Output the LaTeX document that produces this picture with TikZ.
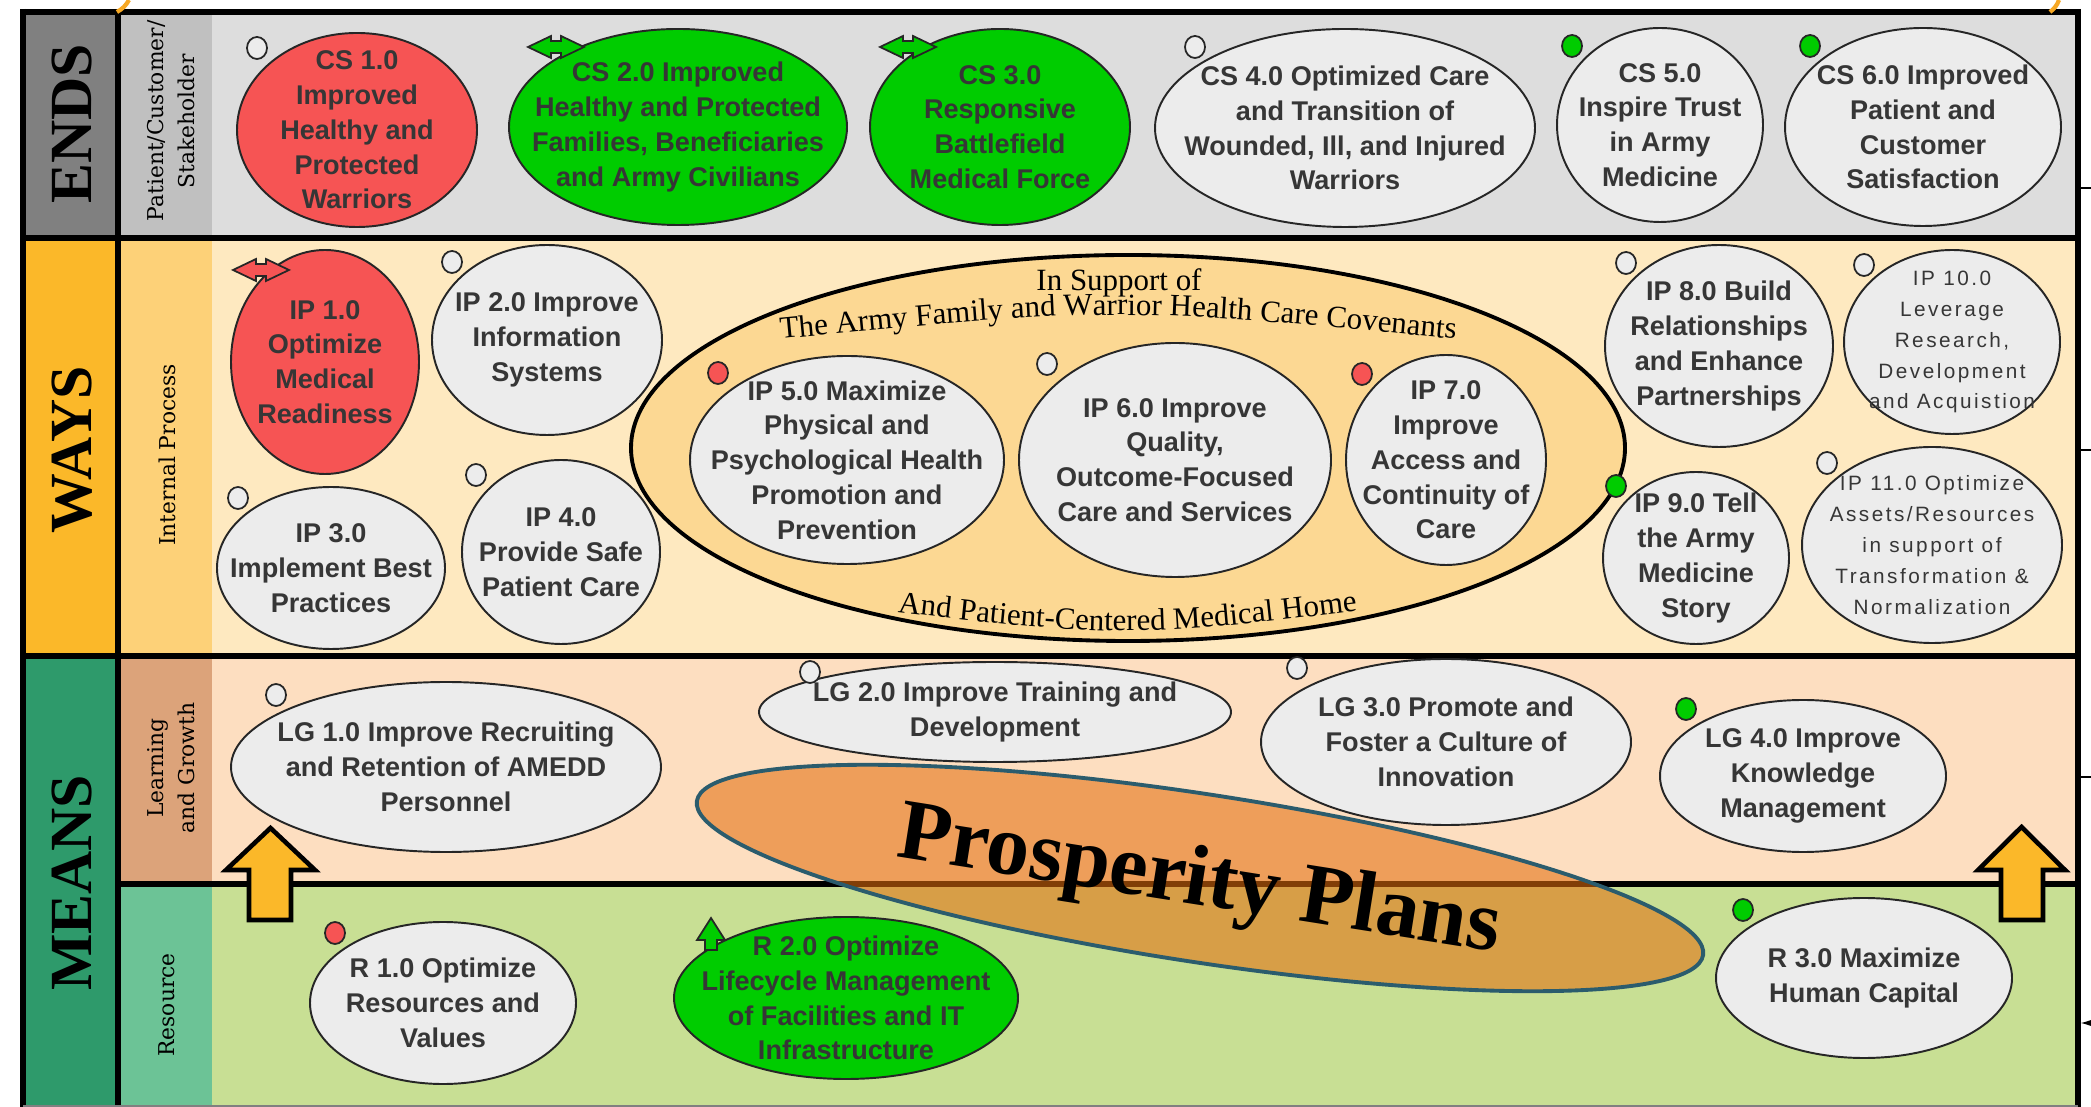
\documentclass[tikz,border=0pt]{standalone}
\usepackage{fontspec}
\setmainfont{Liberation Serif}
\setsansfont{Liberation Sans}
\newfontfamily\slabfont{DejaVu Serif}
\newfontfamily\spacedfont{Liberation Sans}[LetterSpace=12]
\usetikzlibrary{shapes.geometric,decorations.text}

\definecolor{endsDark}{HTML}{808080}
\definecolor{endsMid}{HTML}{C0C0C0}
\definecolor{endsLight}{HTML}{DDDDDD}
\definecolor{waysDark}{HTML}{FBB829}
\definecolor{waysMid}{HTML}{FDD178}
\definecolor{waysLight}{HTML}{FEE9C0}
\definecolor{meansDark}{HTML}{2E9A6B}
\definecolor{lgMid}{HTML}{DCA37A}
\definecolor{lgLight}{HTML}{FDDEC0}
\definecolor{resMid}{HTML}{6CC396}
\definecolor{resLight}{HTML}{C8DF94}
\definecolor{objGray}{HTML}{ECECEC}
\definecolor{objRed}{HTML}{F65454}
\definecolor{objGreen}{HTML}{00CC00}
\definecolor{txtGray}{HTML}{363636}
\definecolor{covFill}{HTML}{FCD893}
\definecolor{arrowYellow}{HTML}{FBB829}
\definecolor{prospFill}{HTML}{E46E0E}
\definecolor{prospLine}{HTML}{2B5C6D}
\definecolor{orangeArc}{HTML}{F7A823}

\newcommand\covfont{\rmfamily\fontsize{8.8}{10}\selectfont}

\tikzset{
  frameline/.style={line width=1.7pt},
  obj/.style={draw=black!85, line width=0.55pt, fill=objGray},
  objtxt/.style={align=center, inner sep=0pt, text=txtGray, font=\sffamily\bfseries\fontsize{7.7}{9.9}\selectfont},
  thintxt/.style={objtxt, font=\spacedfont\fontsize{5.9}{8.8}\selectfont},
  dot/.style={ellipse, draw=black!85, line width=0.5pt, fill=objGray, minimum width=0.2cm, minimum height=0.22cm, inner sep=0pt},
  flag/.style={draw=black!85, line width=0.5pt, line join=miter},
  bigword/.style={rotate=90, font=\bfseries\fontsize{17}{20}\selectfont},
  sublabel/.style={rotate=90, align=center, font=\slabfont\fontsize{6.2}{8.8}\selectfont},
  blockarrow/.style={fill=arrowYellow, draw=black, line width=1.3pt, line join=miter},
  prosp/.style={fill=prospFill, fill opacity=0.57, draw=prospLine, line width=1.1pt}
}

\begin{document}
\begin{tikzpicture}[x=0.01cm, y=-0.01cm, >=latex]
\fill[white] (0,0) rectangle (2091,1107);
\useasboundingbox (0,0) rectangle (2091,1107);
% rows
\foreach \ya/\yb/\cmid/\clight in {12/238/endsMid/endsLight, 238/656/waysMid/waysLight, 656/884/lgMid/lgLight, 884/1107/resMid/resLight}
{
   \fill[\cmid] (118,\ya) rectangle (212,\yb);
   \fill[\clight] (212,\ya) rectangle (2078,\yb);
}
\fill[endsDark] (23,12) rectangle (118,238);
\fill[waysDark] (23,238) rectangle (118,656);
\fill[meansDark] (23,656) rectangle (118,1107);
% frame
\draw[frameline] (20,12) -- (2081,12);
\draw[frameline] (23,9) -- (23,1107);
\draw[frameline] (2078,9) -- (2078,1107);
\draw[frameline] (118,12) -- (118,1107);
\draw[frameline] (23,238) -- (2078,238);
\draw[frameline] (23,656) -- (2078,656);
\draw[frameline] (118,884) -- (2078,884);
\draw[gray, line width=0.5pt] (23,1106) -- (2078,1106);
\foreach \y in {188,450,777}
   \draw[line width=0.8pt] (2078,\y) -- (2091,\y);
\draw[<-, line width=0.8pt] (2081,1023) -- (2091,1023);
\draw[orangeArc, line width=1.2pt] (117,12) to[bend right=15] (129,0);
\draw[orangeArc, line width=1.2pt] (2050,12) to[bend right=15] (2059,0);
% side labels
\node[bigword] (ends) at (72,124) {ENDS};
\node[bigword] (ways) at (72,450) {WAYS};
\node[bigword] (means) at (72,883) {MEANS};
\node[sublabel] (pcs) at (171,121) {Patient/Customer/\\Stakeholder};
\node[sublabel] (ipl) at (167,455) {Internal Process};
\node[sublabel] (lgl) at (171,768) {Learning\\and Growth};
\node[sublabel] (rsl) at (167,1005) {Resource};
% covenants
\path[draw=black, line width=1.1pt, fill=covFill] (1128,448) ellipse [x radius=497, y radius=193];
\node[font=\covfont] (sup) at (1119,283) {In Support of};
\path[decorate, decoration={text along path, text align=center,
   text={|\covfont|The Army Family and Warrior Health Care Covenants}}]
   (750,342) .. controls (1118,306) .. (1486,342);
\path[decorate, decoration={text along path, text align=center,
   text={|\covfont|And Patient-Centered Medical Home}}]
   (850,607) .. controls (1128,639) .. (1405,605);
% prosperity plans
\path[prosp, rotate around={-8.7:(1200,878)}] (1200,878) ellipse [x radius=509, y radius=84];
% ends
\path[obj, fill=objRed] (357,130) ellipse [x radius=120, y radius=97]
   node[objtxt] (cs1) {CS 1.0\\Improved\\Healthy and\\Protected\\Warriors};
\path[obj, fill=objGreen] (678,127) ellipse [x radius=169, y radius=98]
   node[objtxt] (cs2) {CS 2.0 Improved\\Healthy and Protected\\Families, Beneficiaries\\and Army Civilians};
\path[obj, fill=objGreen] (1000,127) ellipse [x radius=130, y radius=98]
   node[objtxt] (cs3) {CS 3.0\\Responsive\\Battlefield\\Medical Force};
\path[obj] (1345,128) ellipse [x radius=190, y radius=99]
   node[objtxt] (cs4) {CS 4.0 Optimized Care\\and Transition of\\Wounded, Ill, and Injured\\Warriors};
\path[obj] (1660,125) ellipse [x radius=103, y radius=97]
   node[objtxt] (cs5) {CS 5.0\\Inspire Trust\\in Army\\Medicine};
\path[obj] (1923,127) ellipse [x radius=138, y radius=99]
   node[objtxt] (cs6) {CS 6.0 Improved\\Patient and\\Customer\\Satisfaction};
% ways
\path[obj, fill=objRed] (325,362) ellipse [x radius=94, y radius=112]
   node[objtxt] (ip1) {IP 1.0\\Optimize\\Medical\\Readiness};
\path[obj] (547,340) ellipse [x radius=115, y radius=95]
   node[objtxt] (ip2) {IP 2.0 Improve\\Information\\Systems};
\path[obj] (331,568) ellipse [x radius=114, y radius=81]
   node[objtxt] (ip3) {IP 3.0\\Implement Best\\Practices};
\path[obj] (561,552) ellipse [x radius=99, y radius=92]
   node[objtxt] (ip4) {IP 4.0\\Provide Safe\\Patient Care};
\path[obj] (847,460) ellipse [x radius=157, y radius=104]
   node[objtxt] (ip5) {IP 5.0 Maximize\\Physical and\\Psychological Health\\Promotion and\\Prevention};
\path[obj] (1175,460) ellipse [x radius=156, y radius=117]
   node[objtxt] (ip6) {IP 6.0 Improve\\Quality,\\Outcome-Focused\\Care and Services};
\path[obj] (1446,460) ellipse [x radius=100, y radius=105]
   node[objtxt] (ip7) {IP 7.0\\Improve\\Access and\\Continuity of\\Care};
\path[obj] (1719,346) ellipse [x radius=114, y radius=101]
   node[objtxt] (ip8) {IP 8.0 Build\\Relationships\\and Enhance\\Partnerships};
\path[obj] (1696,558) ellipse [x radius=93, y radius=86]
   node[objtxt] (ip9) {IP 9.0 Tell\\the Army\\Medicine\\Story};
\path[obj] (1952,342) ellipse [x radius=108, y radius=92]
   node[thintxt] (ip10) {IP 10.0\\Leverage\\Research,\\Development\\and Acquistion};
\path[obj] (1932,545) ellipse [x radius=130, y radius=98]
   node[thintxt] (ip11) {IP 11.0 Optimize\\Assets/Resources\\in support of\\Transformation \&\\Normalization};
% means
\path[obj] (446,767) ellipse [x radius=215, y radius=85]
   node[objtxt] (lg1) {LG 1.0 Improve Recruiting\\and Retention of AMEDD\\Personnel};
\path[obj] (995,712) ellipse [x radius=236, y radius=50]
   node[objtxt] (lg2) {LG 2.0 Improve Training and\\Development};
\path[obj] (1446,742) ellipse [x radius=185, y radius=83]
   node[objtxt] (lg3) {LG 3.0 Promote and\\Foster a Culture of\\Innovation};
\path[obj] (1803,776) ellipse [x radius=143, y radius=76]
   node[objtxt] (lg4) {LG 4.0 Improve\\Knowledge\\Management};
\path[obj] (443,1003) ellipse [x radius=133, y radius=81]
   node[objtxt] (r1) {R 1.0 Optimize\\Resources and\\Values};
\path[obj, fill=objGreen] (846,998) ellipse [x radius=172, y radius=81]
   node[objtxt] (r2) {R 2.0 Optimize\\Lifecycle Management\\of Facilities and IT\\Infrastructure};
\path[obj] (1864,978) ellipse [x radius=148, y radius=80]
   node[objtxt] (r3) {R 3.0 Maximize\\Human Capital};
% status flags
\node[dot] (f-cs1) at (257,48) {};
\node[dot] (f-cs4) at (1195,47) {};
\node[dot, fill=objGreen] (f-cs5) at (1572,46) {};
\node[dot, fill=objGreen] (f-cs6) at (1810,46) {};
\node[dot] (f-ip2) at (452,262) {};
\node[dot] (f-ip3) at (238,498) {};
\node[dot] (f-ip4) at (476,475) {};
\node[dot, fill=objRed] (f-ip5) at (718,373) {};
\node[dot] (f-ip6) at (1047,364) {};
\node[dot, fill=objRed] (f-ip7) at (1362,374) {};
\node[dot] (f-ip8) at (1626,263) {};
\node[dot, fill=objGreen] (f-ip9) at (1616,486) {};
\node[dot] (f-ip10) at (1864,265) {};
\node[dot] (f-ip11) at (1827,463) {};
\node[dot] (f-lg1) at (276,695) {};
\node[dot] (f-lg2) at (810,672) {};
\node[dot] (f-lg3) at (1297,668) {};
\node[dot, fill=objGreen] (f-lg4) at (1686,709) {};
\node[dot, fill=objRed] (f-r1) at (335,933) {};
\node[dot, fill=objGreen] (f-r3) at (1743,910) {};
\foreach \x/\y/\c in {556/47/objGreen, 908/47/objGreen, 261/270/objRed}
{
   \draw[flag, fill=\c, shift={(\x,\y)}] (-28,0) -- (-5,-11) -- (-5,-6) -- (5,-6) -- (5,-11)
      -- (28,0) -- (5,11) -- (5,6) -- (-5,6) -- (-5,11) -- cycle;
}
\draw[flag, fill=objGreen, shift={(711,934)}] (0,-16) -- (14,6) -- (6,6) -- (6,16)
   -- (-6,16) -- (-6,6) -- (-14,6) -- cycle;
% growth arrows
\draw[blockarrow] (249,920) -- (249,870) -- (226,870) -- (270.5,828) -- (315,870)
   -- (291,870) -- (291,920) -- cycle;
\draw[blockarrow] (2001,920) -- (2001,870) -- (1978,870) -- (2021.5,827) -- (2065,870)
   -- (2043,870) -- (2043,920) -- cycle;
\node[rotate=-9, font=\bfseries\fontsize{24.5}{28}\selectfont] (pp) at (1199,884) {Prosperity Plans};
\end{tikzpicture}
\end{document}
